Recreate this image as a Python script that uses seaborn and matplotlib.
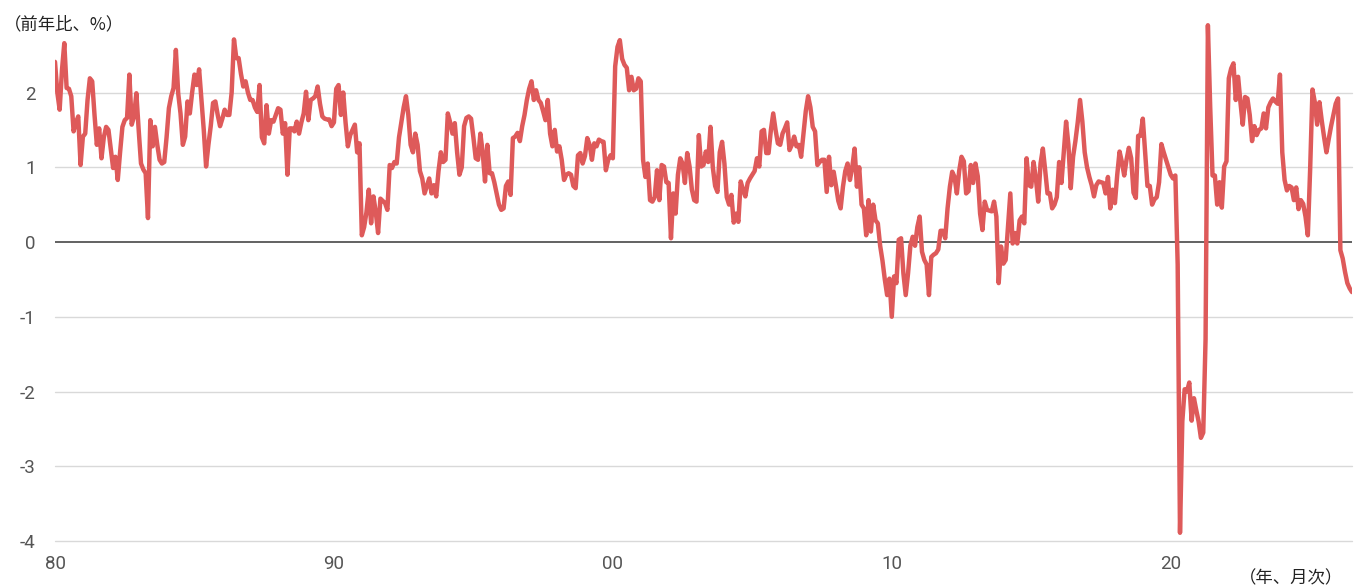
import numpy as np
import pandas as pd
import matplotlib
matplotlib.use("Agg")
import matplotlib.pyplot as plt
import seaborn as sns

# ---- data (YoY %, monthly from Jan 1980) ----
y1980 = [2.41, 2.0, 1.77, 2.3, 2.66, 2.06, 2.05, 1.95, 1.48, 1.6, 1.68, 1.03]
y1981 = [1.41, 1.45, 1.9, 2.19, 2.15, 1.7, 1.30, 1.52, 1.12, 1.4, 1.54, 1.5]
y1982 = [1.25, 0.99, 1.14, 0.83, 1.2, 1.54, 1.63, 1.66, 2.24, 1.57, 1.68, 1.99]
y1983 = [1.5, 1.05, 0.97, 0.92, 0.32, 1.63, 1.28, 1.54, 1.3, 1.1, 1.05, 1.07]
y1984 = [1.4, 1.79, 1.95, 2.06, 2.57, 1.99, 1.72, 1.30, 1.41, 1.88, 1.72, 2.0]
y1985 = [2.24, 2.10, 2.31, 1.9, 1.5, 1.01, 1.3, 1.55, 1.86, 1.88, 1.7, 1.55]
y1986 = [1.65, 1.77, 1.70, 1.70, 2.0, 2.71, 2.46, 2.46, 2.25, 2.08, 2.15, 2.0]
y1987 = [1.90, 1.9, 1.8, 1.74, 2.1, 1.4, 1.32, 1.83, 1.45, 1.63, 1.61, 1.7]
y1988 = [1.79, 1.77, 1.45, 1.59, 0.90, 1.52, 1.52, 1.48, 1.61, 1.45, 1.6, 1.72]
y1989 = [2.01, 1.63, 1.90, 1.92, 1.95, 2.08, 1.85, 1.68, 1.65, 1.64, 1.64, 1.55]
y1990 = [1.6, 2.05, 2.10, 1.7, 2.0, 1.6, 1.28, 1.43, 1.5, 1.57, 1.2, 1.32]
y1991 = [0.09, 0.2, 0.4, 0.7, 0.25, 0.61, 0.4, 0.12, 0.58, 0.55, 0.52, 0.43]
y1992 = [1.03, 0.99, 1.07, 1.05, 1.4, 1.6, 1.8, 1.95, 1.7, 1.3, 1.2, 1.45]
y1993 = [1.3, 0.95, 0.85, 0.65, 0.75, 0.85, 0.65, 0.76, 0.61, 0.95, 1.2, 1.07]
y1994 = [1.1, 1.72, 1.6, 1.45, 1.59, 1.2, 0.90, 1.0, 1.55, 1.66, 1.68, 1.65]
y1995 = [1.4, 1.12, 1.10, 1.45, 1.2, 0.81, 1.30, 0.92, 0.92, 0.80, 0.65, 0.50]
y1996 = [0.43, 0.45, 0.75, 0.81, 0.63, 1.39, 1.41, 1.46, 1.35, 1.55, 1.7, 1.9]
y1997 = [2.05, 2.15, 1.9, 2.03, 1.9, 1.86, 1.75, 1.63, 1.90, 1.45, 1.28, 1.50]
y1998 = [1.21, 1.28, 1.1, 0.83, 0.9, 0.92, 0.90, 0.75, 0.72, 1.16, 1.19, 1.05]
y1999 = [1.15, 1.39, 1.3, 1.10, 1.32, 1.28, 1.37, 1.35, 1.34, 0.96, 1.10, 1.16]
y2000 = [1.12, 2.35, 2.61, 2.70, 2.45, 2.37, 2.33, 2.03, 2.21, 2.03, 2.05, 2.19]
y2001 = [2.15, 1.1, 0.87, 1.05, 0.56, 0.54, 0.6, 0.96, 0.56, 1.03, 1.01, 0.8]
y2002 = [0.79, 0.05, 0.65, 0.38, 0.9, 1.12, 1.05, 0.79, 1.19, 1.01, 0.7, 0.56]
y2003 = [0.54, 1.43, 1.01, 1.03, 1.21, 1.07, 1.54, 1.0, 0.75, 0.67, 1.2, 1.34]
y2004 = [1.05, 0.6, 0.5, 0.63, 0.26, 0.38, 0.27, 0.81, 0.7, 0.61, 0.79, 0.85]
y2005 = [0.90, 0.95, 1.12, 1.01, 1.48, 1.50, 1.19, 1.19, 1.5, 1.72, 1.5, 1.32]
y2006 = [1.3, 1.45, 1.52, 1.6, 1.23, 1.3, 1.41, 1.28, 1.3, 1.14, 1.45, 1.75]
y2007 = [1.95, 1.8, 1.54, 1.48, 1.03, 1.07, 1.1, 1.1, 0.67, 1.14, 0.76, 0.94]
y2008 = [0.75, 0.55, 0.45, 0.74, 0.95, 1.05, 0.83, 1.0, 1.25, 0.74, 1.0, 0.50]
y2009 = [0.45, 0.09, 0.56, 0.14, 0.5, 0.29, 0.25, -0.05, -0.25, -0.5, -0.71, -0.49]
y2010 = [-1.0, -0.46, -0.55, 0.03, 0.05, -0.42, -0.71, -0.42, -0.05, 0.07, -0.05, 0.2]
y2011 = [0.34, -0.13, -0.24, -0.3, -0.71, -0.2, -0.17, -0.15, -0.1, 0.15, 0.15, 0.05]
y2012 = [0.45, 0.74, 0.94, 0.87, 0.65, 0.95, 1.14, 1.08, 0.65, 0.68, 1.03, 0.79]
y2013 = [1.05, 0.88, 0.38, 0.16, 0.54, 0.43, 0.42, 0.41, 0.54, 0.34, -0.55, -0.06]
y2014 = [-0.29, -0.24, 0.2, 0.65, -0.02, 0.12, -0.02, 0.29, 0.34, 0.25, 1.12, 0.76]
y2015 = [0.74, 1.07, 0.85, 0.54, 1.05, 1.25, 0.96, 0.65, 0.65, 0.45, 0.50, 0.6]
y2016 = [1.07, 0.79, 1.2, 1.61, 1.3, 0.72, 1.14, 1.35, 1.6, 1.90, 1.61, 1.2]
y2017 = [1.0, 0.87, 0.76, 0.61, 0.76, 0.81, 0.8, 0.79, 0.65, 0.87, 0.45, 0.70]
y2018 = [0.52, 0.9, 1.21, 1.07, 0.89, 1.1, 1.26, 1.12, 0.66, 0.59, 1.42, 1.42]
y2019 = [1.65, 1.2, 0.75, 0.75, 0.50, 0.57, 0.6, 0.80, 1.31, 1.2, 1.1, 1.0]
y2020 = [0.9, 0.85, 0.89, -0.3, -3.89, -2.4, -1.97, -2.0, -1.88, -2.39, -2.09, -2.25]
y2021 = [-2.4, -2.62, -2.55, -1.3, 2.90, 1.8, 0.89, 0.89, 0.50, 0.80, 0.46, 1.01]
y2022 = [1.08, 2.19, 2.32, 2.39, 1.90, 2.21, 1.87, 1.57, 1.94, 1.92, 1.70, 1.35]
y2023 = [1.55, 1.43, 1.50, 1.52, 1.72, 1.52, 1.8, 1.87, 1.92, 1.88, 1.85, 2.24]
y2024 = [1.2, 0.83, 0.69, 0.75, 0.73, 0.56, 0.73, 0.44, 0.56, 0.51, 0.34, 0.09]
y2025 = [0.98, 2.04, 1.87, 1.57, 1.87, 1.62, 1.4, 1.20, 1.38, 1.55, 1.7, 1.85]
y2026 = [1.92, -0.11, -0.22, -0.4, -0.55, -0.62, -0.67]

years = [y1980, y1981, y1982, y1983, y1984, y1985, y1986, y1987, y1988, y1989,
         y1990, y1991, y1992, y1993, y1994, y1995, y1996, y1997, y1998, y1999,
         y2000, y2001, y2002, y2003, y2004, y2005, y2006, y2007, y2008, y2009,
         y2010, y2011, y2012, y2013, y2014, y2015, y2016, y2017, y2018, y2019,
         y2020, y2021, y2022, y2023, y2024, y2025, y2026]

xtick_years = [1980, 1990, 2000, 2010, 2020]
xtick_labels = ["80", "90", "00", "10", "20"]
yticks = [-4, -3, -2, -1, 0, 1, 2]
ylabel_text = "（前年比、%）"
xlabel_text = "（年、月次）"

values = [v for yr in years for v in yr]
t = 1980 + np.arange(len(values)) / 12.0
df = pd.DataFrame({"t": t, "v": values})

sns.set_theme(style="white")
plt.rcParams['font.family'] = ['Roboto', 'Noto Sans CJK JP', 'DejaVu Sans']

fig = plt.figure(figsize=(13.59, 5.88), dpi=100)
ax = fig.add_axes([55 / 1359, 47 / 588, 1297 / 1359, 521 / 588])

for yt in yticks:
    if yt == 0:
        continue
    ax.axhline(yt, color="#d9d9d9", lw=1.0, zorder=0, clip_on=False)
ax.axhline(0, color="#555555", lw=1.3, zorder=1)

sns.lineplot(data=df, x="t", y="v", ax=ax, color="#de5a5a", lw=3.2, zorder=3)

ax.set_xlim(1980, 1980 + (len(values) - 1) / 12.0)
ax.set_ylim(-4, 2.97)
ax.set_xticks(xtick_years)
ax.set_xticklabels(xtick_labels)
ax.set_yticks(yticks)
ax.set_yticklabels([str(v) for v in yticks])
ax.set_xlabel("")
ax.set_ylabel("")
for s in ax.spines.values():
    s.set_visible(False)
ax.tick_params(axis="both", length=0, labelsize=13.5, colors="#555555")
ax.tick_params(axis="y", pad=14)
ax.tick_params(axis="x", pad=10)

fig.text(4 / 1359, 1 - 24 / 588, ylabel_text, fontsize=12.5, color="#222222",
         family=['Noto Sans CJK JP', 'DejaVu Sans'], va="center", ha="left")
fig.text(1343 / 1359, 1 - 578 / 588, xlabel_text, fontsize=12.5, color="#222222",
         family=['Noto Sans CJK JP', 'DejaVu Sans'], va="center", ha="right")

fig.savefig("out.png", dpi=100)
